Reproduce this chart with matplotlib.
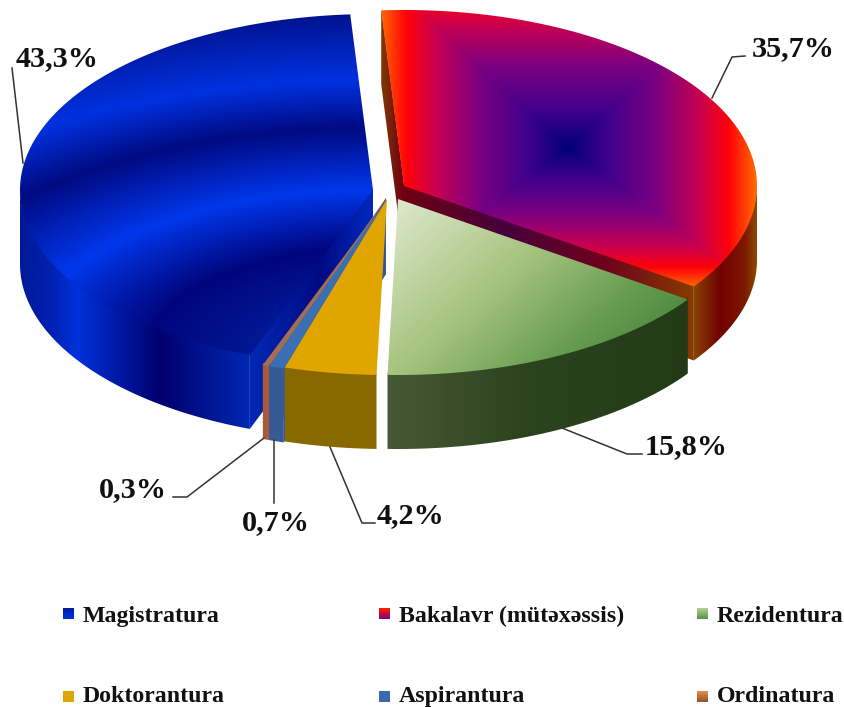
# exploded 3d pie drawn by hand, matplotlib has no real 3d pie
import matplotlib
matplotlib.use('Agg')
import matplotlib.pyplot as plt
import numpy as np
from matplotlib.patches import Polygon

categories = ['Bakalavr (mütəxəssis)', 'Rezidentura', 'Doktorantura', 'Aspirantura', 'Ordinatura', 'Magistratura']
shares = [35.7, 15.8, 4.2, 0.7, 0.3, 43.3]

legend_order = ['Magistratura', 'Bakalavr (mütəxəssis)', 'Rezidentura', 'Doktorantura', 'Aspirantura', 'Ordinatura']

# pie geometry, in pixels of the picture
RX, RY = 353, 176
DEPTH = 74
START = -3.7
apex = {
    'Bakalavr (mütəxəssis)': (404, 186), 'Rezidentura': (398, 199), 'Doktorantura': (387, 199),
    'Aspirantura': (386, 200), 'Ordinatura': (386, 200), 'Magistratura': (373, 190),
}
paint_order = ['Bakalavr (mütəxəssis)', 'Magistratura', 'Rezidentura', 'Ordinatura', 'Aspirantura', 'Doktorantura']

# label text position and leader line
label_pos = {
    'Magistratura': (57, 59), 'Bakalavr (mütəxəssis)': (793, 49), 'Rezidentura': (686, 447),
    'Doktorantura': (411, 516), 'Aspirantura': (276, 523), 'Ordinatura': (133, 490),
}
leaders = {
    'Magistratura': [(12, 68), (23, 163)],
    'Bakalavr (mütəxəssis)': [(745, 56), (732, 57), (712, 98)],
    'Rezidentura': [(562, 428), (627, 454), (642, 454)],
    'Doktorantura': [(330, 447), (362, 523), (375, 523)],
    'Aspirantura': [(274, 440), (274, 503)],
    'Ordinatura': [(264, 438), (187, 497), (173, 497)],
}
legend_x = [63, 379, 697]
legend_y = [614, 697]
legend_baseline = [622, 702]

BLUE_BAND = ([0, 50, 105, 163, 190, 225, 273, 345],
             [(0, 40, 175), (0, 25, 150), (0, 5, 125), (0, 55, 235), (0, 35, 190), (0, 10, 130), (0, 50, 225), (0, 15, 135)])
RED_PATH = ([0, .2, .47, .7, .85, 1], [(0, 0, 120), (60, 0, 140), (125, 0, 130), (200, 0, 80), (255, 0, 10), (255, 110, 0)])
GREEN_TOP = ([0, .4, .7, 1], [(222, 232, 205), (165, 195, 125), (100, 155, 80), (60, 120, 50)])


def ramp(t, stops, colors):
    colors = np.array(colors, dtype=float) / 255
    return np.dstack([np.interp(t, stops, colors[:, i]) for i in range(3)])


def xgrad(xs, colors):
    return lambda x, y: ramp(x, xs, colors)


def red_top(x, y):
    # rectangular path gradient, reaches further up than down
    dy = y - 148
    ty = np.where(dy < 0, -dy / 175, dy / 140)
    return ramp(np.maximum(abs(x - 568) / 189, ty), *RED_PATH)


def blue_top(x, y):
    d = np.hypot((x - 372) / 2.14, y - 353)
    return ramp(d, *BLUE_BAND)


def green_top(x, y):
    t = (x - 397) / 291 * .6 + (y - 200) / 174 * .4
    return ramp(t, *GREEN_TOP)


def flat(color):
    return lambda x, y: ramp(np.zeros_like(x), [0, 1], [color, color])


top_fill = {
    'Bakalavr (mütəxəssis)': red_top, 'Magistratura': blue_top, 'Rezidentura': green_top,
    'Doktorantura': flat((225, 165, 0)), 'Aspirantura': flat((60, 110, 180)), 'Ordinatura': flat((165, 110, 80)),
}
wall_fill = {
    'Bakalavr (mütəxəssis)': xgrad([695, 720, 745, 757], [(135, 65, 0), (112, 0, 0), (125, 25, 0), (140, 75, 0)]),
    'Magistratura': xgrad([20, 50, 77, 160, 252], [(0, 25, 150), (0, 32, 175), (0, 50, 220), (0, 0, 110), (0, 40, 180)]),
    'Rezidentura': xgrad([388, 520, 688], [(72, 88, 52), (45, 68, 32), (34, 58, 22)]),
    'Doktorantura': flat((138, 105, 0)), 'Aspirantura': flat((55, 90, 150)), 'Ordinatura': flat((170, 90, 60)),
}
face_fill = {
    'Bakalavr (mütəxəssis)': xgrad([380, 403, 503, 603, 695], [(130, 60, 0), (110, 0, 20), (70, 0, 60), (110, 0, 30), (135, 60, 0)]),
    'Magistratura': xgrad([252, 320, 372], [(0, 40, 180), (0, 10, 130), (0, 40, 190)]),
    'Rezidentura': flat((60, 80, 45)),
    'Doktorantura': flat((170, 125, 0)), 'Aspirantura': flat((55, 90, 150)), 'Ordinatura': flat((170, 90, 60)),
}
swatch_fill = {
    'Magistratura': [(0, 30, 160), (0, 50, 225)],
    'Bakalavr (mütəxəssis)': [(255, 30, 0), (130, 0, 120)],
    'Rezidentura': [(175, 205, 145), (90, 150, 75)],
    'Doktorantura': [(225, 165, 0), (225, 165, 0)],
    'Aspirantura': [(60, 105, 175), (60, 105, 175)],
    'Ordinatura': [(225, 140, 80), (150, 85, 40)],
}


def point(center, theta):
    th = np.radians(theta)
    return center[0] + RX * np.sin(th), center[1] - RY * np.cos(th)


def paint(ax, verts, fill):
    ''' fill a polygon with a gradient image clipped to it '''
    verts = np.asarray(verts, dtype=float)
    x0, y0 = np.floor(verts.min(axis=0)) - 1
    x1, y1 = np.ceil(verts.max(axis=0)) + 1
    xx, yy = np.meshgrid(np.arange(x0, x1) + .5, np.arange(y0, y1) + .5)
    img = ax.imshow(fill(xx, yy), extent=(x0, x1, y1, y0), origin='upper', aspect='auto', interpolation='bilinear')
    patch = Polygon(verts, closed=True, transform=ax.transData, fill=False, lw=0)
    ax.add_patch(patch)
    img.set_clip_path(patch)


def draw_slice(ax, name, t1, t2):
    c = apex[name]
    arc = np.array([point(c, t) for t in np.linspace(t1, t2, 200)])
    down = np.array([0, DEPTH])
    lift = np.array([0, 2])  # walls run a bit under the top, no seam

    # side faces along the radii, only those turned to the viewer
    if np.sin(np.radians(t1)) < -.05:
        edge = np.array([c, arc[0]], dtype=float)
        paint(ax, np.vstack([edge - lift, edge[::-1] + down]), face_fill[name])
    if np.sin(np.radians(t2)) > .05:
        edge = np.array([c, arc[-1]], dtype=float)
        paint(ax, np.vstack([edge - lift, edge[::-1] + down]), face_fill[name])

    # outer wall, front half of the circle only
    lo, hi = max(t1, 90), min(t2, 270)
    if lo < hi:
        rim = np.array([point(c, t) for t in np.linspace(lo, hi, 200)])
        paint(ax, np.vstack([rim - lift, rim[::-1] + down]), wall_fill[name])

    paint(ax, np.vstack([[c], arc]), top_fill[name])


def main():
    plt.rcParams['font.family'] = ['Liberation Serif', 'DejaVu Serif']
    fig = plt.figure(figsize=(8.45, 7.07), dpi=100)
    ax = fig.add_axes([0, 0, 1, 1])

    edges = START + np.cumsum([0] + shares) * 3.6
    spans = {n: (edges[i], edges[i + 1]) for i, n in enumerate(categories)}
    for name in paint_order:
        draw_slice(ax, name, *spans[name])

    # data labels, decimal comma
    for name, share in zip(categories, shares):
        x, y = label_pos[name]
        ax.text(x, y, f'{share:.1f}%'.replace('.', ','), ha='center', va='center',
                fontsize=21.8, fontweight='bold', color='#111111')
        line = np.array(leaders[name])
        ax.plot(line[:, 0], line[:, 1], color='#333333', lw=1.1, solid_joinstyle='miter')

    # legend, two rows of three
    for i, name in enumerate(legend_order):
        x = legend_x[i % 3]
        y = legend_y[i // 3]
        grad = np.linspace(0, 1, 8)[:, None] * np.ones((8, 8))
        ax.imshow(ramp(grad, [0, 1], swatch_fill[name]), extent=(x, x + 11, y + 5, y - 6), aspect='auto')
        ax.text(x + 20, legend_baseline[i // 3], name, ha='left', va='baseline', fontsize=17.2, fontweight='bold', color='#111111')

    ax.set_xlim(0, 845)
    ax.set_ylim(707, 0)
    ax.axis('off')
    fig.savefig('out.png', dpi=100)


if __name__ == "__main__":
    main()
